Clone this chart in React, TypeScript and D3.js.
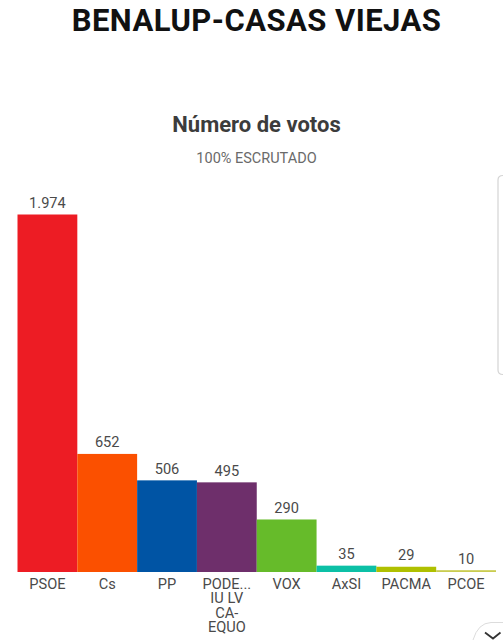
import React from "react";
import * as d3 from "d3";

const categories = ["PSOE", "Cs", "PP", "PODE...", "VOX", "AxSI", "PACMA", "PCOE"];
const extraLines: Record<string, string[]> = { "PODE...": ["IU LV", "CA-", "EQUO"] };
const votes = [1974, 652, 506, 495, 290, 35, 29, 10];
const valueLabels = ["1.974", "652", "506", "495", "290", "35", "29", "10"];
const colors = ["#ed1c24", "#fb5000", "#0054a4", "#6e2f6b", "#66bb2a", "#0cc0a6", "#afc000", "#c9cc50"];

const W = 503;
const H = 640;
const FONT = "Roboto, sans-serif";

export default function App() {
  const x = d3.scaleBand<string>().domain(categories).range([17.5, 496]).padding(0);
  const y = d3.scaleLinear().domain([0, 1974]).range([572, 214.5]);
  return (
    <svg
      width={W}
      height={H}
      viewBox={`0 0 ${W} ${H}`}
      style={{ position: "fixed", left: 0, top: 0, background: "#fff", display: "block" }}
    >
      <text x={256.5} y={30.5} textAnchor="middle" fontFamily={FONT} fontWeight={700} fontSize={31} letterSpacing={0.45} fill="#111">
        BENALUP-CASAS VIEJAS
      </text>
      <text x={256.5} y={132} textAnchor="middle" fontFamily={FONT} fontWeight={700} fontSize={22} fill="#3c3c3c">
        Número de votos
      </text>
      <text x={256.5} y={163} textAnchor="middle" fontFamily={FONT} fontSize={14.5} fill="#6a6a6a">
        100% ESCRUTADO
      </text>
      {categories.map((c, i) => {
        const bx = x(c) as number;
        const top = y(votes[i]);
        const cx = bx + x.bandwidth() / 2;
        return (
          <g key={c}>
            <rect x={bx} y={top} width={x.bandwidth()} height={Math.max(y(0) - top, 1.5)} fill={colors[i]} />
            <text x={cx} y={top - 6.5} textAnchor="middle" fontFamily={FONT} fontSize={14.6} fill="#4a4a4a">
              {valueLabels[i]}
            </text>
            <text x={cx} y={588.5} textAnchor="middle" fontFamily={FONT} fontSize={14.6} fill="#4a4a4a">
              {c}
            </text>
            {(extraLines[c] || []).map((line, j) => (
              <text key={line} x={cx} y={588.5 + (j + 1) * 14.6} textAnchor="middle" fontFamily={FONT} fontSize={14.6} fill="#4a4a4a">
                {line}
              </text>
            ))}
          </g>
        );
      })}
      <path d="M505,175.5 H503 Q498,175.5 498,180 V370 Q498,374.5 503,374.5 H505" fill="none" stroke="#d4d4d4" strokeWidth={1.2} />
      <path d="M505,622.5 H491 Q478,623 473,640" fill="none" stroke="#dcdcdc" strokeWidth={1} />
      <path d="M485,632.5 L493,638.5 L500.5,632.5" fill="none" stroke="#333" strokeWidth={1.8} />
    </svg>
  );
}
